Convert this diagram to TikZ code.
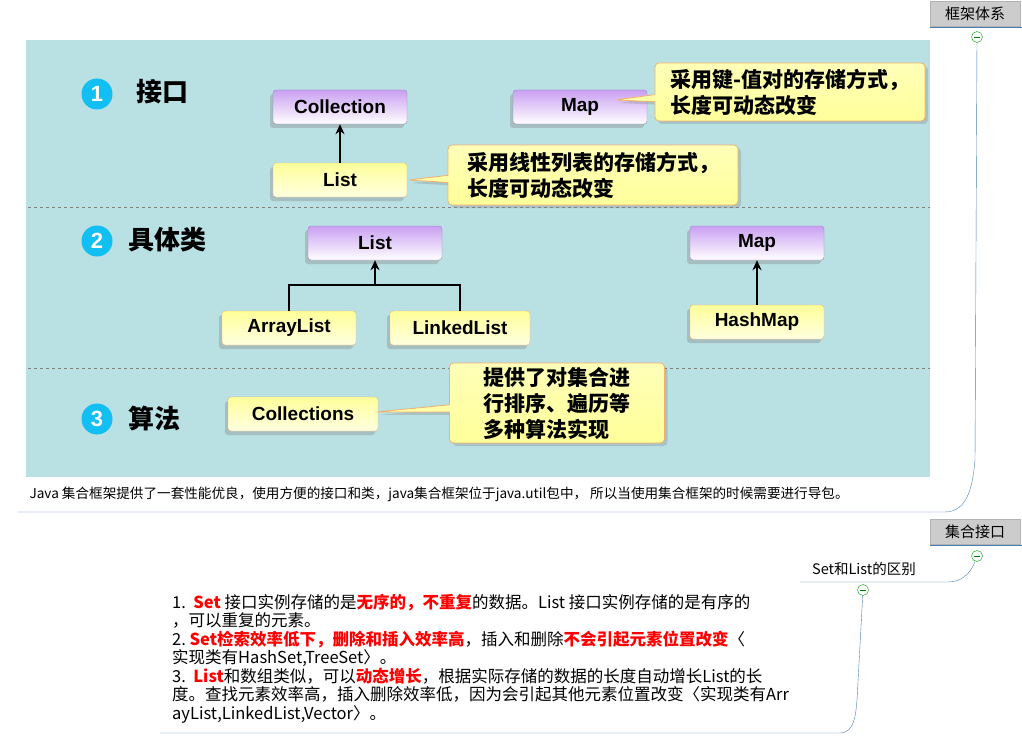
\documentclass[tikz,border=0pt]{standalone}
\usepackage{fontspec}
\setmainfont{Liberation Sans}
\newfontfamily\cjk{Noto Sans CJK SC}
\usetikzlibrary{shapes.callouts,shadows,arrows.meta}
\definecolor{panel}{HTML}{B9E0E3}
\definecolor{violet}{HTML}{C9A0F2}
\definecolor{lemon}{HTML}{FFFF9A}
\definecolor{edge}{HTML}{F0B070}
\definecolor{branch}{HTML}{4A7FB5}
\definecolor{badge}{HTML}{12BFF2}
\tikzset{
  ifbox/.style = {draw=violet!80!black, rounded corners=3pt, top color=violet, bottom color=white,
    minimum width=134pt, minimum height=34pt, font=\fontsize{19}{22}\selectfont\bfseries,
    drop shadow={shadow xshift=-3pt, shadow yshift=-4pt, opacity=.35}},
  clbox/.style = {ifbox, draw=edge, top color=lemon, bottom color=lemon!30},
  note/.style = {rectangle callout, draw=edge, thick, rounded corners=4pt, top color=lemon!70, bottom color=lemon,
    align=left, inner sep=2pt, font=\cjk\fontsize{21}{26}\selectfont\bfseries,
    drop shadow={shadow xshift=3pt, shadow yshift=-3pt, opacity=.3}},
  num/.style = {circle, fill=badge, text=white, minimum size=31pt, inner sep=0pt, font=\fontsize{22}{22}\selectfont\bfseries},
  title/.style = {font=\cjk\fontsize{26}{28}\selectfont\bfseries, anchor=west},
  topic/.style = {fill=gray!40, draw=gray!60, minimum width=90pt, minimum height=25pt, font=\cjk\fontsize{15}{16}\selectfont},
  fold/.style = {circle, draw=green!60!black, fill=white, minimum size=11pt, inner sep=0pt, path picture={\draw[green!50!black,thick] (-3pt,0) -- (3pt,0);}},
  link/.style = {-{Stealth[length=10pt,width=9pt]}, line width=2.2pt},
  sep/.style = {gray, dashed, thick}
}
\begin{document}
\begin{tikzpicture}[x=1pt, y=-1pt]
\useasboundingbox (0,0) rectangle (1022,741);
% panel
\fill[panel] (26,40) rectangle (930,477);
\draw[sep] (28,207) -- (930,207);
\draw[sep] (28,368) -- (930,368);
\node[anchor=west, font=\cjk\fontsize{13.6}{15}\selectfont] (caption) at (26,494) {Java 集合框架提供了一套性能优良，使用方便的接口和类，java集合框架位于java.util包中， 所以当使用集合框架的时候需要进行导包。};

% sections
\node[num] (n1) at (97,94) {1};
\node[title] (t1) at (133,92) {接口};
\node[num] (n2) at (97,241) {2};
\node[title] (t2) at (125,240) {具体类};
\node[num] (n3) at (97,419) {3};
\node[title] (t3) at (125,418) {算法};

% boxes
\node[ifbox] (coll) at (340,107) {Collection};
\node[ifbox] (map) at (580,107) {Map};
\node[clbox] (list) at (340,180) {List};
\node[ifbox] (list2) at (375,243) {List};
\node[clbox] (alist) at (289,328) {ArrayList};
\node[clbox, minimum width=140pt] (llist) at (460,328) {LinkedList};
\node[ifbox] (map2) at (757,243) {Map};
\node[clbox] (hmap) at (757,322) {HashMap};
\node[clbox, minimum width=150pt] (colls) at (303,414) {Collections};

% notes
\node[note, minimum width=270pt, minimum height=58pt, callout absolute pointer={(615,100)}] (mapnote) at (790,92) {采用键-值对的存储方式，\\长度可动态改变};
\node[note, minimum width=290pt, minimum height=60pt, callout absolute pointer={(408,180)}] (listnote) at (593,175) {采用线性列表的存储方式，\\长度可动态改变};
\node[note, minimum width=215pt, minimum height=80pt, callout absolute pointer={(376,412)}] (collnote) at (557,403) {提供了对集合进\\行排序、遍历等\\多种算法实现};

% connectors
\coordinate (fork) at (list2.south |- 0,285);
\draw[link] (list) -- (coll);
\draw[link] (fork) -- (list2);
\draw[line width=2.2pt] (alist.north) |- (fork) -| (llist.north);
\draw[link] (hmap) -- (map2);

% mind map part
\node[topic] (frame) at (975,14) {框架体系};
\draw[branch] (930,27) -- (1022,27);
\node[fold] (f1) at (977,37) {};
\draw[branch] (18,512) -- (945,512) to[out=0, in=-95] (975,460) -- (f1);

\node[topic] (setif) at (975,532) {集合接口};
\draw[branch] (930,545) -- (1022,545);
\node[fold] (f2) at (977,556) {};
\node[anchor=south, font=\cjk\fontsize{14.5}{15}\selectfont] (diff) at (864,579) {Set和List的区别};
\draw[branch] (800,582) -- (948,582) to[out=0, in=-110] (f2);
\node[fold] (f3) at (863,590) {};
\draw[branch] (160,733) -- (840,733) to[out=0, in=-95] (857,700) -- (f3);
\node[anchor=north west, align=left, inner sep=0pt, font=\cjk\fontsize{16.5}{18.5}\selectfont] (body) at (172,594) {%
1.\ \ {\color{red}\bfseries Set} 接口实例存储的是{\color{red}\bfseries 无序的，不重复}的数据。List 接口实例存储的是有序的\\
，可以重复的元素。\\
2.\ {\color{red}\bfseries Set检索效率低下，删除和插入效率高}，插入和删除{\color{red}\bfseries 不会引起元素位置改变}〈\\
实现类有HashSet,TreeSet〉。\\
3.\ \ {\color{red}\bfseries List}和数组类似，可以{\color{red}\bfseries 动态增长}，根据实际存储的数据的长度自动增长List的长\\
度。查找元素效率高，插入删除效率低，因为会引起其他元素位置改变〈实现类有Arr\\
ayList,LinkedList,Vector〉。};
\end{tikzpicture}
\end{document}
